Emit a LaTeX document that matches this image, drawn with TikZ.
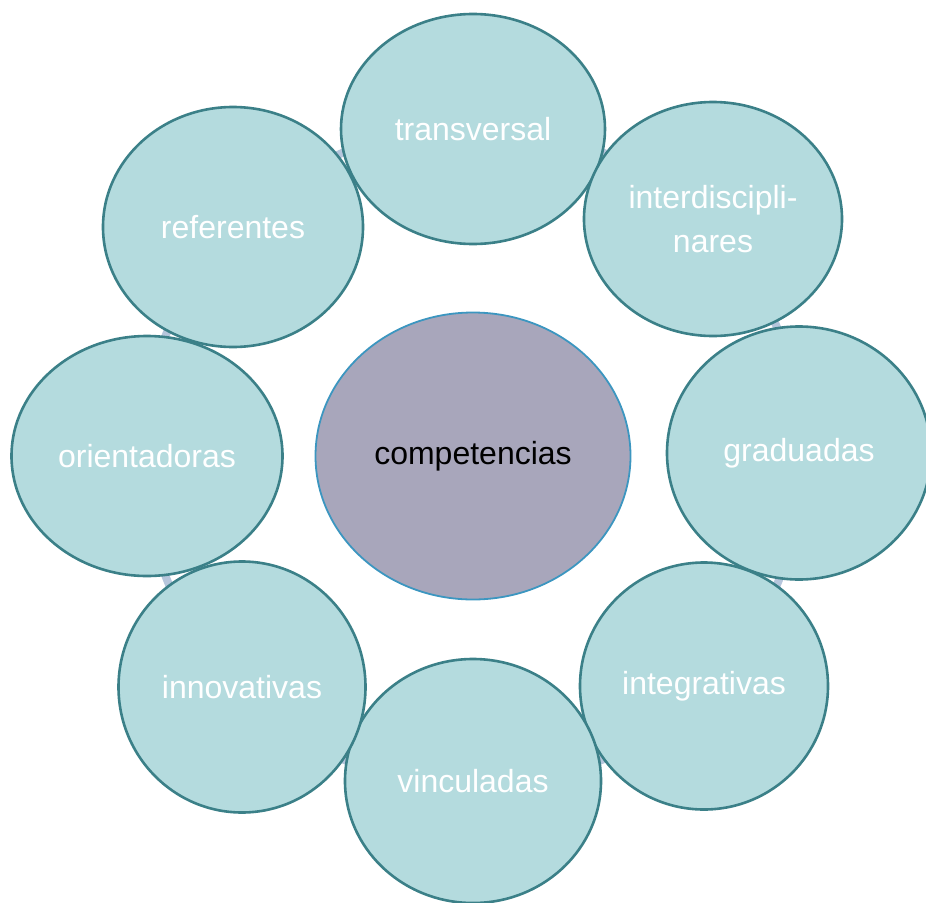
\documentclass[tikz,border=0pt]{standalone}
\usepackage{fontspec}
\setmainfont{Liberation Sans}
\usetikzlibrary{shapes.geometric}

\definecolor{satfill}{RGB}{180,219,222}
\definecolor{satline}{RGB}{59,128,136}
\definecolor{corefill}{RGB}{168,166,187}
\definecolor{coreline}{RGB}{60,150,192}
\definecolor{ringcol}{RGB}{182,198,220}

\tikzset{
  sat/.style={ellipse, draw=satline, fill=satfill, line width=2.6pt,
    inner sep=0pt, text=white, font=\fontsize{32}{44}\selectfont, align=center},
  core/.style={ellipse, draw=coreline, fill=corefill, line width=1.8pt,
    inner sep=0pt, text=black, font=\fontsize{32}{44}\selectfont}
}

\begin{document}
\begin{tikzpicture}[x=1pt, y=-1pt]
    \useasboundingbox (0, 0) rectangle (926, 902);

    % ring behind the circles
    \coordinate (mid) at (473, 456);
    \draw[ringcol, line width=8pt] (mid) circle (330pt);

    % outer circles
    \node[sat, minimum width=264pt, minimum height=230pt] (transversal) at (473, 129) {transversal};
    \node[sat, minimum width=258pt, minimum height=234pt] (interdisc) at (713, 219) {interdiscipli-\\nares};
    \node[sat, minimum width=264pt, minimum height=253pt] (graduadas) at (799, 453) {graduadas};
    \node[sat, minimum width=248pt, minimum height=247pt] (integrativas) at (704, 686) {integrativas};
    \node[sat, minimum width=256pt, minimum height=244pt] (vinculadas) at (473, 781) {vinculadas};
    \node[sat, minimum width=247pt, minimum height=251pt] (innovativas) at (242, 687) {innovativas};
    \node[sat, minimum width=271pt, minimum height=240pt] (orientadoras) at (147, 456) {orientadoras};
    \node[sat, minimum width=260pt, minimum height=240pt] (referentes) at (233, 227) {referentes};

    % centre
    \node[core, minimum width=315pt, minimum height=287pt] (competencias) at (mid) {competencias};
\end{tikzpicture}
\end{document}
